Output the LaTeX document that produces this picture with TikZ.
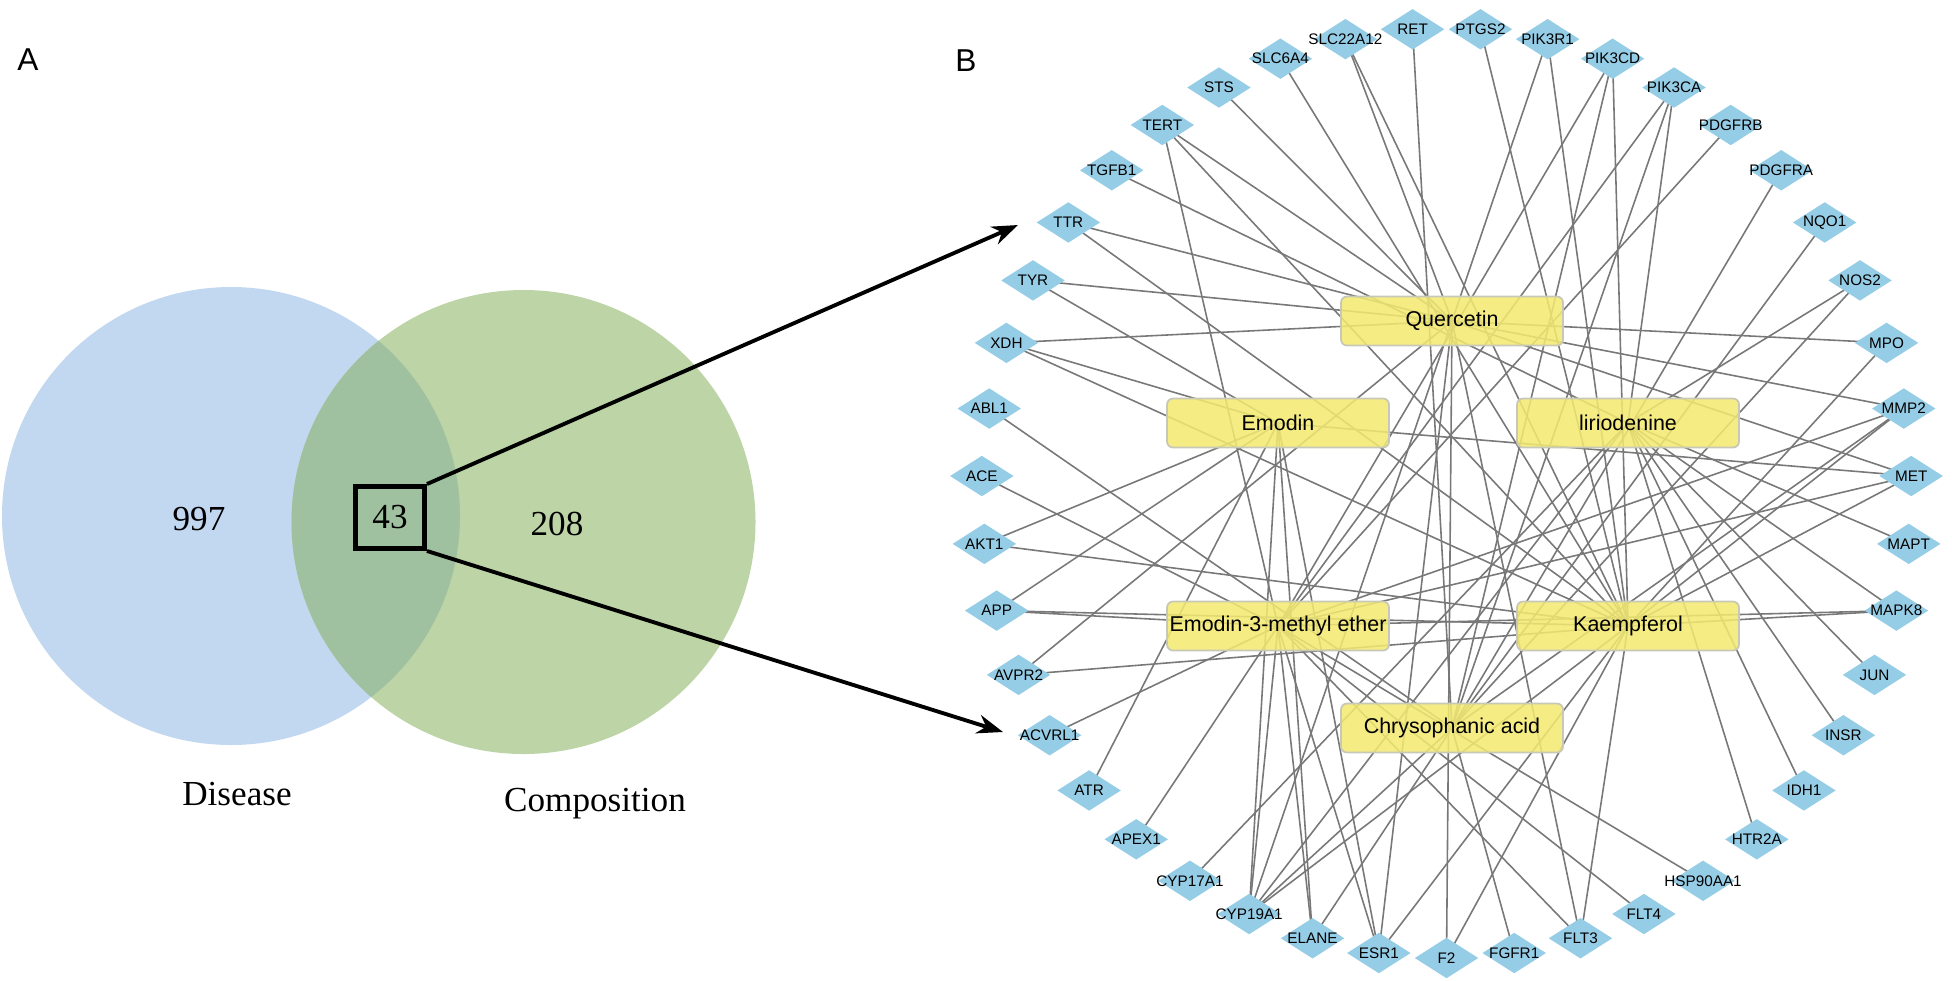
\documentclass[tikz,border=0pt]{standalone}
\usepackage{fontspec}
\setmainfont{Liberation Serif}
\newfontfamily\arialf{Liberation Sans}
\usetikzlibrary{shapes.geometric,arrows.meta,backgrounds}

\definecolor{vennblue}{RGB}{194,215,240}
\definecolor{venngreen}{RGB}{188,212,166}
\definecolor{vennmix}{RGB}{160,193,160}
\definecolor{geneblue}{RGB}{150,205,230}
\definecolor{cmpyellow}{RGB}{243,233,112}
\definecolor{cmpborder}{RGB}{200,200,185}
\definecolor{edgegray}{RGB}{120,120,120}

\begin{document}
\begin{tikzpicture}[
    >={Stealth[length=2.6mm,width=1.9mm]},
    gene/.style={
        diamond,
        fill=geneblue,
        minimum width=6.4mm,
        minimum height=4.1mm,
        inner sep=0pt
    },
    genetxt/.style={font=\arialf\fontsize{4.35}{5}\selectfont, inner sep=0pt},
    cmp/.style={
        draw=cmpborder,
        line width=0.5pt,
        rounded corners=0.6mm,
        fill=cmpyellow,
        fill opacity=0.86,
        text opacity=1,
        minimum width=22.2mm,
        minimum height=4.9mm,
        inner sep=0pt,
        font=\arialf\fontsize{6.1}{7}\selectfont
    },
    link/.style={draw=edgegray, line width=0.45pt},
    zoomarr/.style={->, line width=1.1pt},
    num/.style={font=\fontsize{10}{12}\selectfont},
    panel/.style={font=\arialf\fontsize{9}{10}\selectfont}
]
    \useasboundingbox (0,0) rectangle (19.52,9.80);

    % A: Venn diagram
    \fill[vennblue] (2.31,4.64) circle (2.29);
    \fill[venngreen] (5.235,4.58) circle (2.32);
    \begin{scope}
        \clip (2.31,4.64) circle (2.29);
        \fill[vennmix] (5.235,4.58) circle (2.32);
    \end{scope}

    \node[panel] (labA) at (0.28,9.20) {A};
    \node[panel] (labB) at (9.66,9.19) {B};

    \node[num] (n997) at (1.99,4.61) {997};
    \node[num] (n208) at (5.57,4.56) {208};
    \node[num, draw, line width=1.4pt, minimum width=6.9mm, minimum height=6.2mm, inner sep=0pt] (box43) at (3.90,4.625) {43};
    \node[num] (dis) at (2.37,1.86) {Disease};
    \node[num] (comp) at (5.95,1.76) {Composition};

    \coordinate (zoomtop) at (10.18,7.55);
    \coordinate (zoombot) at (10.03,2.48);
    \draw[zoomarr] (box43.north east) -- (zoomtop);
    \draw[zoomarr] (box43.south east) -- (zoombot);

    % B: compound-target network
    \node[cmp] (quer) at (14.52,6.59) {Quercetin};
    \node[cmp] (emod) at (12.78,5.57) {Emodin};
    \node[cmp] (lirio) at (16.28,5.57) {liriodenine};
    \node[cmp] (emme) at (12.78,3.54) {Emodin-3-methyl ether};
    \node[cmp] (kaem) at (16.28,3.54) {Kaempferol};
    \node[cmp] (chry) at (14.52,2.52) {Chrysophanic acid};

    \foreach \gname [count=\k from 0] in {F2,FGFR1,FLT3,FLT4,HSP90AA1,HTR2A,IDH1,INSR,JUN,MAPK8,MAPT,MET,MMP2,MPO,NOS2,NQO1,PDGFRA,PDGFRB,PIK3CA,PIK3CD,PIK3R1,PTGS2,RET,SLC22A12,SLC6A4,STS,TERT,TGFB1,TTR,TYR,XDH,ABL1,ACE,AKT1,APP,AVPR2,ACVRL1,ATR,APEX1,CYP17A1,CYP19A1,ELANE,ESR1}
        \node[gene, label={[genetxt]center:\gname}] (\gname)
            at ({14.465+4.65*cos(-90+\k*360/43)},{4.87+4.65*sin(-90+\k*360/43)}) {};

    \begin{pgfonlayer}{background}
        \foreach \g/\c in {RET/chry, PTGS2/kaem, PIK3R1/quer, PIK3R1/kaem,
                PIK3CD/chry, PIK3CD/kaem, PIK3CD/emme,
                PIK3CA/emme, PIK3CA/chry, PIK3CA/lirio, PDGFRB/emme, PDGFRA/chry,
                NQO1/chry, NOS2/lirio, NOS2/chry, MPO/quer, MPO/kaem,
                MMP2/quer, MMP2/emme, MMP2/kaem, MMP2/chry,
                MET/emod, MET/quer, MET/emme, MET/kaem, MAPT/lirio,
                MAPK8/kaem, MAPK8/lirio, MAPK8/emme, JUN/lirio, INSR/lirio,
                IDH1/lirio, HTR2A/lirio, HSP90AA1/emme, FLT4/emme,
                FLT3/emme, FLT3/quer, FLT3/kaem, FGFR1/chry, F2/quer, F2/kaem,
                ESR1/emod, ESR1/emme, ESR1/quer, ESR1/kaem,
                ELANE/emod, ELANE/chry, ELANE/emme,
                CYP19A1/emod, CYP19A1/emme, CYP19A1/quer, CYP19A1/lirio,
                CYP19A1/kaem, CYP19A1/chry, CYP17A1/lirio, APEX1/emme,
                ATR/emod, ACVRL1/emme, AVPR2/kaem, AVPR2/quer,
                APP/emme, APP/emod, APP/kaem, AKT1/emod, AKT1/kaem,
                ACE/emme, ABL1/chry, XDH/quer, XDH/emod, XDH/kaem,
                TYR/quer, TYR/emod, TTR/quer, TTR/kaem, TGFB1/lirio,
                TERT/emme, TERT/kaem, TERT/quer, STS/quer, SLC6A4/kaem,
                SLC22A12/quer, SLC22A12/kaem}
            \draw[link] (\g.center) -- (\c.center);
    \end{pgfonlayer}
\end{tikzpicture}
\end{document}
